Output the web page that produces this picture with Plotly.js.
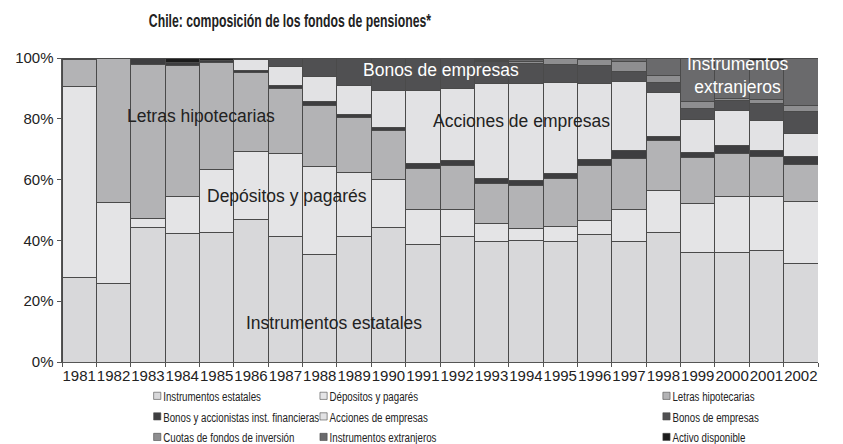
<!DOCTYPE html>
<html>
<head>
<meta charset="utf-8">
<script src="https://cdn.plot.ly/plotly-3.0.1.min.js"></script>
<style>html,body{margin:0;padding:0;background:#fff;}#chart{width:843px;height:444px;}</style>
</head>
<body>
<div id="chart"></div>
<script>
// Categories
var years = ['1981','1982','1983','1984','1985','1986','1987','1988','1989','1990','1991',
             '1992','1993','1994','1995','1996','1997','1998','1999','2000','2001','2002'];

// Series values (% of total portfolio)
var instrumentosEstatales = [27.9,25.9,44.4,42.2,42.6,46.8,41.4,35.5,41.4,44.3,38.5,41.2,39.8,40.1,39.8,41.8,39.6,42.5,36.0,36.0,36.6,32.5];
var depositosPagares      = [62.8,26.6,2.9,12.3,20.7,22.5,27.2,28.7,20.9,15.8,11.7,9.0,5.8,3.9,4.7,4.7,10.6,13.8,16.0,18.4,17.8,20.2];
var letrasHipotecarias    = [8.8,47.2,50.6,42.9,35.3,26.0,21.4,20.3,18.1,16.0,13.5,14.3,13.0,14.2,15.9,18.0,16.8,16.5,15.3,14.3,13.1,12.4];
var bonosInstFinancieras  = [null,null,2.1,1.2,0.6,0.7,0.9,1.3,0.9,1.1,1.6,1.7,1.9,1.4,1.6,2.2,2.7,1.5,1.5,2.4,2.0,2.4];
var accionesEmpresas      = [null,null,null,null,null,3.5,6.3,8.0,9.8,12.1,23.9,23.8,31.2,32.1,29.9,25.0,22.5,14.3,11.0,11.6,10.1,7.7];
var bonosEmpresas         = [null,null,null,null,null,null,2.8,6.2,8.9,10.7,10.8,10.0,7.3,6.6,5.8,5.7,3.3,3.2,3.6,3.3,5.3,7.1];
var cuotasFondosInversion = [null,null,null,null,null,null,null,null,null,null,null,null,0.3,0.5,2.0,2.0,3.3,2.3,2.2,0.8,1.5,2.1];
var instrumentosExtranjeros = [null,null,null,null,null,null,null,null,null,null,null,null,0.3,0.6,0.2,0.5,1.0,5.6,14.1,12.9,12.9,15.4];
var activoDisponible      = [0.5,0.3,null,1.4,0.8,0.5,null,null,null,null,null,null,0.4,0.6,0.1,0.1,0.2,0.3,0.3,0.3,0.7,0.2];

var seriesNames = ['Instrumentos estatales','Dépositos y pagarés','Letras hipotecarias',
  'Bonos y accionistas inst. financieras','Acciones de empresas','Bonos de empresas',
  'Cuotas de fondos de inversión','Instrumentos extranjeros','Activo disponible'];
var tickLabels = ['0%','20%','40%','60%','80%','100%'];
var tickValues = [0,20,40,60,80,100];

var seriesData = [instrumentosEstatales, depositosPagares, letrasHipotecarias, bonosInstFinancieras,
  accionesEmpresas, bonosEmpresas, cuotasFondosInversion, instrumentosExtranjeros, activoDisponible];
var colors = ['#d8d8da','#e4e4e6','#b3b3b5','#3e3e40','#e2e2e4','#505052','#8e8e90','#6a6a6c','#1c1c1c'];
var legendIds = ['legend','legend2','legend3','legend','legend2','legend3','legend','legend2','legend3'];

var traces = seriesData.map(function(vals, i){
  return {
    type: 'bar', x: years, y: vals, name: seriesNames[i],
    legend: legendIds[i],
    marker: {color: colors[i], line: {color: '#4a4a4a', width: 1}},
    hoverinfo: 'x+y+name'
  };
});

var FONT = 'Liberation Sans, Arial, sans-serif';
var annFont = {family: FONT, size: 17.5, color: '#222'};
var annWhite = {family: FONT, size: 17.5, color: '#ffffff'};
var legFont = {family: FONT, size: 13.5, color: '#222'};

var legendCommon = {orientation: 'v', xanchor: 'left', yanchor: 'top', y: -0.061,
  font: legFont, bgcolor: 'rgba(0,0,0,0)', borderwidth: 0, traceorder: 'normal',
  itemwidth: 30, tracegroupgap: 0};

function ann(text, x, y, font){
  return {text: text, xref: 'paper', yref: 'paper', x: x, y: y, xanchor: 'center', yanchor: 'middle',
          showarrow: false, font: font};
}

var layout = {
  width: 843, height: 444,
  paper_bgcolor: '#ffffff', plot_bgcolor: '#ffffff',
  margin: {l: 62, r: 25, t: 58, b: 82, autoexpand: false},
  barmode: 'stack', bargap: 0,
  title: {text: '<b>Chile: composición de los fondos de pensiones*</b>',
          font: {family: FONT, size: 17.5, color: '#222'}, x: 0.344, xanchor: 'center', xref: 'container',
          y: 0.953, yanchor: 'middle'},
  xaxis: {type: 'category', showline: true, linecolor: '#555', linewidth: 1,
          ticks: 'outside', tickson: 'boundaries', ticklen: 4, tickcolor: '#555',
          tickangle: 0, automargin: false,
          tickfont: {family: FONT, size: 15, color: '#222'}, showgrid: false, zeroline: false,
          fixedrange: true},
  yaxis: {range: [0, 100], tickvals: tickValues, ticktext: tickLabels, showline: true,
          linecolor: '#555', linewidth: 1.5, ticks: 'outside', ticklen: 4, tickcolor: '#555',
          automargin: false,
          tickfont: {family: FONT, size: 15, color: '#222'}, showgrid: false, zeroline: false,
          fixedrange: true},
  showlegend: true,
  legend: Object.assign({}, legendCommon, {x: 0.081}),
  legend2: Object.assign({}, legendCommon, {x: 0.301}),
  legend3: Object.assign({}, legendCommon, {x: 0.7546}),
  annotations: [
    ann('Letras hipotecarias', 0.184, 0.81, annFont),
    ann('Depósitos y pagarés', 0.298, 0.546, annFont),
    ann('Instrumentos estatales', 0.360, 0.128, annFont),
    ann('Bonos de empresas', 0.501, 0.96, annWhite),
    ann('Acciones de empresas', 0.608, 0.793, annFont),
    ann('Instrumentos<br>extranjeros', 0.893, 0.944, annWhite)
  ]
};

function squeeze(el, k){
  // horizontal condensing around the text's own anchor x (original typeface is condensed)
  var x = parseFloat(el.getAttribute('x') || 0);
  el.setAttribute('transform', 'translate(' + x + ',0) scale(' + k + ',1) translate(' + (-x) + ',0)');
}

function condense(){
  document.querySelectorAll('svg text').forEach(function(el){
    var s = (el.textContent || '').trim();
    if (seriesNames.indexOf(s) >= 0 && !el.closest('.annotation')) squeeze(el, 0.72);
  });
  document.querySelectorAll('.legendpoints').forEach(function(el){
    el.setAttribute('transform', 'translate(22,0) scale(0.6)');
  });
  var t = document.querySelector('text.gtitle');
  if (t) squeeze(t, 0.70);
}

Plotly.newPlot('chart', traces, layout, {displayModeBar: false, staticPlot: true}).then(function(gd){
  condense();
  gd.on('plotly_afterplot', condense);
  [0, 30, 100, 250, 500].forEach(function(ms){ setTimeout(condense, ms); });
});
</script>
</body>
</html>
